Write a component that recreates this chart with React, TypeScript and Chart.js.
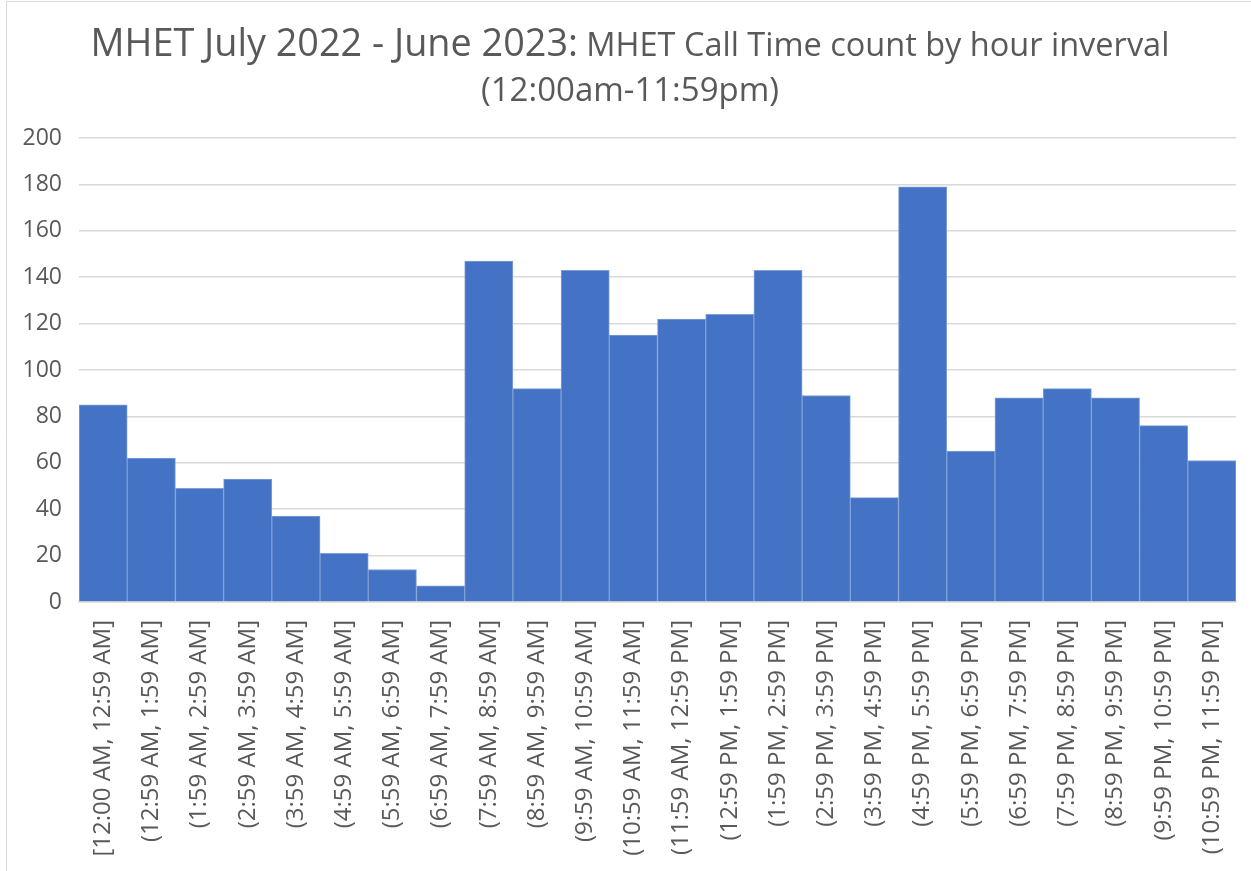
import React, { useEffect, useRef } from "react";
import { Chart, registerables } from "chart.js";

Chart.register(...registerables);

const titleMain = "MHET July 2022 - June 2023:";
const titleSub = " MHET Call Time count by hour inverval";
const titleLine2 = "(12:00am-11:59pm)";

const categories: string[] = [
  "[12:00 AM, 12:59 AM]",
  "(12:59 AM, 1:59 AM]",
  "(1:59 AM, 2:59 AM]",
  "(2:59 AM, 3:59 AM]",
  "(3:59 AM, 4:59 AM]",
  "(4:59 AM, 5:59 AM]",
  "(5:59 AM, 6:59 AM]",
  "(6:59 AM, 7:59 AM]",
  "(7:59 AM, 8:59 AM]",
  "(8:59 AM, 9:59 AM]",
  "(9:59 AM, 10:59 AM]",
  "(10:59 AM, 11:59 AM]",
  "(11:59 AM, 12:59 PM]",
  "(12:59 PM, 1:59 PM]",
  "(1:59 PM, 2:59 PM]",
  "(2:59 PM, 3:59 PM]",
  "(3:59 PM, 4:59 PM]",
  "(4:59 PM, 5:59 PM]",
  "(5:59 PM, 6:59 PM]",
  "(6:59 PM, 7:59 PM]",
  "(7:59 PM, 8:59 PM]",
  "(8:59 PM, 9:59 PM]",
  "(9:59 PM, 10:59 PM]",
  "(10:59 PM, 11:59 PM]",
];

const callCounts: number[] = [
  85, 62, 49, 53, 37, 21, 14, 7, 147, 92, 143, 115, 122, 124, 143, 89, 45, 179,
  65, 88, 92, 88, 76, 61,
];

const yMin = 0;
const yMax = 200;
const yStep = 20;

const FONT = "'Open Sans', 'Noto Sans', sans-serif";
const TEXT_COLOR = "#595959";

const titlePlugin = {
  id: "mixedTitle",
  afterDraw(chart: any) {
    const ctx = chart.ctx as CanvasRenderingContext2D;
    ctx.save();
    ctx.strokeStyle = "#D9D9D9";
    ctx.lineWidth = 1;
    ctx.beginPath();
    ctx.moveTo(6.5, chart.height);
    ctx.lineTo(6.5, 1.5);
    ctx.lineTo(chart.width, 1.5);
    ctx.stroke();

    ctx.fillStyle = TEXT_COLOR;
    ctx.textBaseline = "alphabetic";
    ctx.textAlign = "left";
    const cx = 630;
    const fontA = `400 37.8px ${FONT}`;
    const fontB = `400 32.5px ${FONT}`;
    ctx.font = fontA;
    const wA = ctx.measureText(titleMain).width;
    ctx.font = fontB;
    const wB = ctx.measureText(titleSub).width;
    const x = cx - (wA + wB) / 2;
    ctx.font = fontA;
    ctx.fillText(titleMain, x, 56);
    ctx.font = fontB;
    ctx.fillText(titleSub, x + wA, 56);
    ctx.font = `400 33px ${FONT}`;
    ctx.textAlign = "center";
    ctx.fillText(titleLine2, cx, 101);
    ctx.restore();
  },
};

export default function App() {
  const canvasRef = useRef<HTMLCanvasElement | null>(null);

  useEffect(() => {
    if (!canvasRef.current) return;
    const chart = new Chart(canvasRef.current, {
      type: "bar",
      data: {
        labels: categories,
        datasets: [
          {
            label: "Count",
            data: callCounts,
            backgroundColor: "#4472C4",
            borderColor: "#7F9FD6",
            borderWidth: 1,
            barPercentage: 1,
            categoryPercentage: 1,
          },
        ],
      },
      plugins: [titlePlugin],
      options: {
        responsive: false,
        animation: false,
        maintainAspectRatio: false,
        layout: { padding: { top: 138, right: 15, left: 0, bottom: 0 } },
        plugins: {
          legend: { display: false },
          title: { display: false },
          tooltip: { enabled: false },
        },
        scales: {
          x: {
            grid: { display: false, drawTicks: false },
            border: { display: true, color: "#D9D9D9", width: 1.5 },
            ticks: {
              autoSkip: false,
              minRotation: 90,
              maxRotation: 90,
              padding: 18,
              color: TEXT_COLOR,
              font: { family: FONT, size: 24 },
            },
            afterFit(scale: any) {
              scale.height = 871 - 602;
              scale.paddingLeft = 0;
              scale.paddingRight = 0;
            },
          },
          y: {
            min: yMin,
            max: yMax,
            grid: { color: "#D9D9D9", lineWidth: 1.5, drawTicks: false },
            border: { display: false },
            ticks: {
              stepSize: yStep,
              padding: 17,
              color: TEXT_COLOR,
              font: { family: FONT, size: 23 },
            },
            afterFit(scale: any) {
              scale.width = 79;
              scale.paddingTop = 0;
              scale.paddingBottom = 0;
            },
          },
        },
      },
    });
    return () => chart.destroy();
  }, []);

  return (
    <div style={{ position: "fixed", left: 0, top: 0, width: 1251, height: 871, background: "#fff" }}>
      <canvas ref={canvasRef} width={1251} height={871} style={{ display: "block" }} />
    </div>
  );
}
